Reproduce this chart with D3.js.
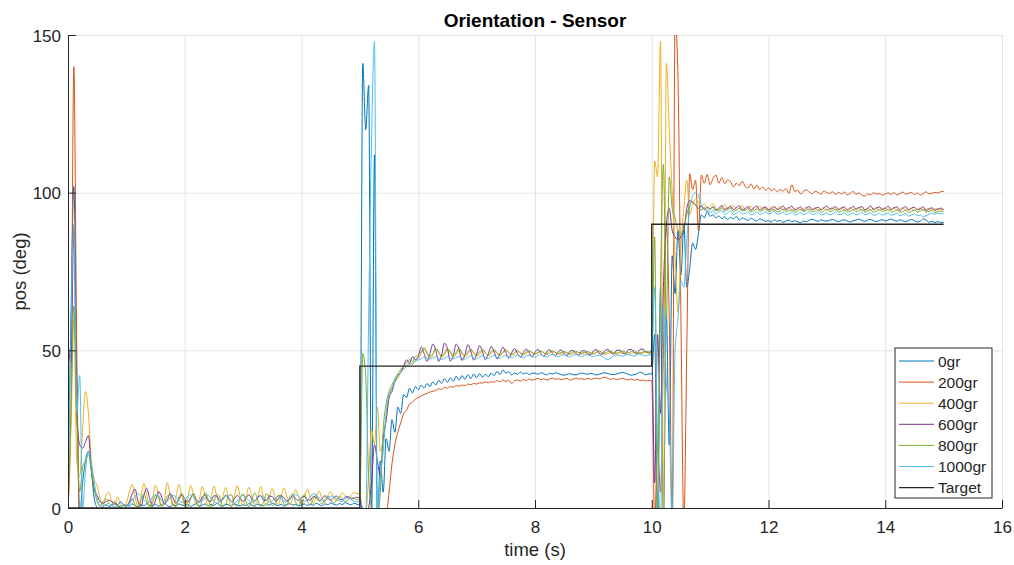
<!DOCTYPE html>
<html>
<head>
<meta charset="utf-8">
<script src="https://cdn.jsdelivr.net/npm/d3@7"></script>
<style>
  body { margin: 0; background: #fff; }
  text { font-family: "Liberation Sans", Arial, Helvetica, sans-serif; fill: #262626; }
</style>
</head>
<body>
<svg id="mainsvg" width="1014" height="565"></svg>
<script>
// sampled every 0.05 s from 0 to 15 s (one row = one second)
const sampleStep = 0.05;

const series0gr = [
  5, 60, 102, 40, -3, 8, 15, 18, 12, 3, 0, -2, 0.5, 1, 0.5, 0.8, 1.2, 0.6, 0.3, 0.9,
  1, 0.6, 1.3, 0.8, 0.4, 1.1, 0.7, 1.4, 0.9, 0.5, 1.2, 0.6, 1.0, 1.5, 0.8, 0.4, 1.1, 0.7, 1.3, 0.9,
  0.8, 1.2, 0.5, 1.0, 1.4, 0.7, 0.9, 1.3, 0.6, 1.1, 0.8, 1.5, 0.9, 0.5, 1.2, 1.0, 0.6, 1.3, 0.9, 0.7,
  1.1, 0.8, 1.4, 0.9, 0.6, 1.2, 1.0, 0.7, 1.3, 0.9, 1.5, 1.1, 0.8, 1.2, 0.6, 1.0, 1.4, 0.9, 1.1, 0.7,
  1.0, 1.3, 0.8, 1.2, 0.9, 1.5, 1.1, 0.7, 1.3, 1.0, 1.6, 1.2, 0.9, 1.4, 1.1, 1.7, 1.3, 1.0, 1.5, 1.2,
  1.0, 141, 120, 134, -5, 112, -5, 15, 5, 22, 18, 28, 24, 32, 30, 36, 35, 38, 36.5, 38.5,
  37.5, 39, 38, 39.5, 38.5, 40, 39, 40.5, 39.5, 41, 39.8, 41.3, 40.2, 41.8, 40.5, 42, 40.8, 42.3, 41, 42.5,
  41.3, 42.6, 41.5, 42.4, 41.6, 42.8, 42, 43.3, 42.3, 43.8, 42.8, 43.2, 42.2, 42.8, 42.4, 43.1, 42.5, 42.9, 42.3, 42.7,
  42.8, 42.4, 42.9, 42.6, 42.2, 42.7, 42.5, 42.9, 42.6, 42.3, 42.1, 42.4, 42.6, 42.3, 42.2, 42.5, 42.8, 42.6, 42.4, 42.7,
  42.5, 42.2, 42.4, 42.7, 42.9, 42.6, 42.4, 42.3, 42.5, 42.8, 43.0, 42.7, 42.4, 42.1, 42.3, 42.6, 43.1, 42.7, 42.2, 42.6,
  42.4, 55, -5, 70, -5, 62, 20, 80, 68, 88, 74, 90, 70, 76, 84, 82, 87, 93, 92, 94,
  92.5, 93, 92, 92.6, 91.8, 92.4, 91.5, 92.2, 91.7, 92.5, 91.3, 92, 91.6, 91.2, 91.9, 91.4, 91, 91.7, 91.3, 90.9,
  91.1, 90.7, 91.4, 90.9, 91.2, 90.6, 91, 91.3, 90.8, 91.1, 90.7, 90.5, 91, 90.8, 91.3, 91.6, 91.2, 90.9, 91.4, 91.1,
  91, 91.3, 91.5, 91.1, 90.8, 91.2, 91.4, 91, 90.7, 91.1, 91.3, 91.6, 91.2, 90.9, 91.3, 91.5, 91.1, 90.8, 91.2, 91.4,
  91, 91.3, 91.6, 91.2, 90.9, 91.4, 91.1, 90.8, 91.2, 91.5, 91.1, 90.7, 91, 91.7, 91.3, 90.6, 90.9, 90.5, 90.8, 90.6,
  90.5
];

const series200gr = [
  0, 30, 140, 50, -3, -2, -1, -2, -1, -1.5, -1, -2, -1, -1, -1.5, -1, -2, -1, -1, -1.5,
  -1, -1, -1, -1, -1, -1, -1, -1, -1, -1, -1, -1, -1, -1, -1, -1, -1, -1, -1, -1,
  -1, -1, -1, -1, -1, -1, -1, -1, -1, -1, -1, -1, -1, -1, -1, -1, -1, -1, -1, -1,
  -1, -1, -1, -1, -1, -1, -1, -1, -1, -1, -1, -1, -1, -1, -1, -1, -1, -1, -1, -1,
  -1, -1, -1, -1, -1, -1, -1, -1, -1, -1, -1, -1, -1, -1, -1, -1, -1, -1, -1, -1,
  -1, -2, -2, -2, -2, -2, -2, -2, -2, -2, 5, 14, 20, 24, 27, 30, 31, 33, 33.5, 34.5,
  35, 35.5, 36, 36.3, 36.8, 37, 37.3, 37.8, 37.6, 38.2, 38, 38.5, 38.3, 38.8, 38.6, 39, 38.8, 39.3, 39.1, 39.5,
  39.3, 39.7, 39.6, 40, 39.7, 40.1, 39.9, 40.4, 40, 40.6, 40.1, 40.5, 39.5, 40.3, 40.6, 40.2, 40.8, 40.4, 40.9, 40.5,
  40.8, 41.1, 40.7, 41, 40.6, 40.9, 41.2, 40.8, 41, 40.7, 40.9, 41.1, 40.6, 40.8, 41.2, 40.9, 41, 40.7, 41.1, 40.8,
  41, 41.2, 40.9, 41.3, 41.5, 41.1, 40.8, 41, 40.7, 40.9, 41.2, 40.8, 40.6, 40.9, 40.5, 40.8, 40.4, 40.6, 40.3, 40.5,
  40.3, -5, 20, 5, 50, 90, 60, -5, 155, 136, 60, -5, 50, 106, 101, 104, 88, 105.6, 103, 105.8,
  102.5, 104.5, 105.6, 103, 104.8, 102.8, 104, 103.5, 101.8, 103, 102.2, 103.6, 102, 101.5, 102.8, 101.2, 102.4, 101, 101.8, 100.8,
  101.5, 100.6, 101.2, 100.3, 101, 100.5, 101.3, 99.8, 102.5, 100.4, 100.8, 99.6, 100.5, 100.9, 100.2, 99.7, 100.4, 100.1, 99.5, 100.6,
  100, 99.8, 100.3, 99.4, 100.1, 99.6, 100.2, 99.3, 99.8, 100.4, 99.5, 99.9, 99.2, 98.9, 99.6, 99.3, 100, 99.5, 99.7, 99.2,
  99.6, 99.9, 99.4, 100, 99.3, 99.7, 100.2, 99.5, 99.8, 100.1, 99.4, 99.9, 99.2, 99.7, 100.3, 99.6, 99.8, 100.1, 99.9, 100.3,
  100.4
];

const series400gr = [
  10, 25, 60, 15, 10, 25, 37, 30, 15, 9, 7, 3, 1, 4, 5, 2, 1, 3.5, 1, 0,
  1.5, 5, 7.5, 3.5, 0.5, 3.5, 7.8, 4, 0.8, 3, 7.2, 4.5, 0.5, 2.5, 8, 4, 0.6, 3.5, 7.5, 3.8,
  0.7, 3, 7.2, 4.2, 0.8, 2.8, 6.8, 4, 0.5, 3.2, 7, 3.6, 0.9, 3.5, 6.5, 3.2, 0.6, 3.8, 7.1, 3.5,
  0.8, 3.4, 6.6, 3.9, 1, 3, 6.9, 3.3, 0.7, 3.6, 6.2, 3.1, 1.1, 3.7, 6.4, 3.5, 0.9, 3.2, 5.8, 3.4,
  1.2, 3.6, 5.9, 3.7, 1.5, 3.3, 5.4, 3.1, 1.8, 3.8, 5.2, 3.6, 2.2, 3.5, 4.8, 3.9, 3.2, 4.3, 4.9, 4.6,
  4.5, -2, -2, 10, 25, 20, 32, 18, 22, 28, 35, 38, 40, 41, 43, 44, 45, 46, 45.5, 47,
  47.5, 49, 50.5, 49, 47.5, 48.5, 50.5, 49.5, 47.8, 48.6, 50.3, 49.2, 47.9, 48.8, 50.2, 49, 48, 48.9, 50, 49.1,
  48.2, 48.7, 49.8, 49.3, 48.3, 48.9, 49.9, 49, 48.4, 49.1, 50.2, 49.2, 48.5, 48.8, 49.6, 49.1, 48.6, 49, 49.7, 49.2,
  48.7, 49.1, 49.8, 49.2, 48.6, 49, 49.6, 49.3, 48.8, 48.9, 49.5, 49.1, 48.6, 49, 49.4, 49.2, 48.7, 49.1, 49.5, 49,
  48.8, 49.2, 49.6, 49.1, 48.7, 49, 49.4, 49.2, 48.8, 49.1, 49.5, 49, 48.7, 49, 49.3, 49.1, 48.8, 49.2, 49.4, 49,
  48.9, 110, 105, 148, -5, 141, 120, 100, 80, 62, 83, 95, 104, 93, 96, 98, 97, 95.5, 96.5, 95,
  95.8, 96.5, 95, 94.3, 95.6, 96.2, 94.8, 95.4, 96, 94.6, 95.2, 95.9, 94.5, 95.1, 95.7, 94.4, 95, 95.8, 94.6, 95.3,
  94.7, 95.5, 94.3, 95, 95.6, 94.4, 94.9, 95.4, 94.2, 94.8, 95.3, 94.5, 94.9, 95.5, 94.3, 94.7, 95.2, 94.4, 94.8, 95.3,
  94.5, 94.9, 95.4, 94.3, 94.8, 95.2, 94.4, 94.7, 95.3, 94.5, 94.9, 95.4, 94.2, 94.6, 95.1, 94.4, 94.8, 95.3, 94.5, 94.9,
  95.2, 94.3, 94.7, 95.1, 94.4, 94.8, 95.3, 94.5, 94.6, 95, 94.3, 94.8, 95.2, 94.4, 94.7, 95.1, 94.5, 94.8, 95, 94.6,
  94.8
];

const series600gr = [
  53, 46, 89, 30, 20, 19, 21, 23, 12, 6, 4, 2, 1.5, 2, 2.5, 2, 1.5, 1, 2, 1,
  0.5, 2, 4.5, 6, 2, 0.5, 4, 6.2, 3, 0.8, 2.5, 5.2, 3.8, 1.2, 2.4, 4.6, 3.2, 1.5, 2.8, 4.2,
  3, 1.8, 3.2, 4.5, 2.6, 1.9, 3.6, 4.2, 2.3, 2.1, 3.9, 3.8, 2.2, 2.6, 4.1, 3.3, 2, 2.9, 4, 3,
  2.1, 3.2, 4.2, 2.8, 2.2, 3.5, 3.9, 2.5, 2.4, 3.8, 3.6, 2.3, 2.7, 4, 3.2, 2.2, 3, 3.9, 2.9, 2.4,
  3.3, 3.7, 2.6, 2.5, 3.6, 3.4, 2.3, 2.8, 3.9, 3.1, 2.4, 3.2, 3.8, 2.9, 2.6, 3.5, 3.6, 2.8, 3.1, 3.4,
  3.2, -3, -3, 0, 8, 20, 15, 10, 22, 28, 35, 37, 40, 42, 43, 45, 47, 46, 48, 47,
  48, 51, 49, 46.5, 49, 52, 50, 46.5, 48.5, 52.3, 50.5, 46.6, 48.3, 52, 50.3, 46.8, 48.6, 51.8, 49.8, 46.9,
  48.8, 51.5, 49.6, 47, 48.9, 51.2, 49.5, 47.3, 49, 51, 49.3, 47.5, 49.2, 50.6, 49, 47.8, 49.3, 50.4, 49.2, 48,
  49.4, 50.3, 49, 48.1, 49.5, 50.2, 49.1, 48.3, 49.6, 50.1, 48.9, 48.4, 49.7, 50, 49, 48.5, 49.8, 49.9, 48.9, 48.6,
  49.8, 50.2, 49.1, 48.7, 49.9, 50.3, 49.2, 48.8, 50, 50.1, 49.1, 48.9, 50.2, 50.3, 49.3, 49, 50.3, 50.4, 49.5, 49.4,
  50, 8, 55, 30, 70, 90, 95, 88, 86, 85, 86, 88, 95, 97.5, 97, 96, 95, 95.8, 94.6, 95.4,
  94.8, 95.6, 94.5, 95.2, 95.9, 94.7, 95.1, 95.7, 94.6, 95.3, 95.8, 94.5, 95, 95.6, 94.4, 95.2, 95.7, 94.6, 95.1, 95.5,
  94.5, 94.9, 95.6, 94.7, 95, 95.8, 94.6, 95.2, 95.7, 94.5, 94.9, 95.5, 94.4, 95.1, 95.6, 94.6, 95, 95.4, 94.5, 95.2,
  95.7, 94.8, 95, 95.6, 94.6, 95.1, 95.5, 94.4, 95, 95.7, 94.7, 95.2, 95.6, 94.5, 94.9, 95.8, 94.6, 95.1, 95.5, 94.7,
  95, 95.7, 94.6, 95.2, 95.5, 94.4, 95, 95.6, 94.5, 95.1, 95.4, 94.6, 94.9, 95.5, 94.3, 94.8, 95.2, 94.4, 94.7, 95.1,
  94.6
];

const series800gr = [
  0, 30, 64, 30, 5, 13, 15, 17, 12, 6, 2, 0.5, 2, 3, 1.5, 1, 2, 1, 0.5, 1,
  0.5, 1.5, 3, 1, 0, 2.5, 4.5, 2, 0.2, 1.8, 4, 3.2, 0.5, 1.2, 3.8, 4.2, 1, 0.5, 3.5, 4.6,
  1.5, 0.3, 2.8, 4.5, 2, 0.2, 2.5, 4.8, 2.8, 0.4, 1.8, 4.4, 3.5, 0.8, 1.2, 3.9, 4.2, 1.2, 0.6, 3.2,
  4.5, 2, 0.4, 2.6, 4.8, 2.6, 0.5, 1.9, 4.5, 3.3, 0.8, 1.4, 4, 3.9, 1.2, 1, 3.6, 4.4, 1.8, 0.8,
  3, 4.3, 2.2, 1, 2.8, 4, 2.5, 1.3, 2.6, 3.8, 2.7, 1.6, 2.5, 3.6, 2.9, 2, 2.6, 3.5, 3.1, 2.6,
  3, 49, 42, 10, 0, -3, -3, 5, 25, 33, 37, 39, 41, 42.5, 44, 45, 46, 47, 46.5, 48,
  48.5, 49.5, 50.8, 49.2, 48, 49, 50.5, 49.4, 48.1, 49.2, 50.6, 49.5, 48.2, 49.3, 50.7, 49.2, 48.3, 49.4, 50.4, 49.3,
  48.4, 49.5, 50.3, 49.2, 48.5, 49.6, 50.2, 49.1, 48.6, 49.5, 50, 49.3, 48.7, 49.4, 49.9, 49.2, 48.8, 49.5, 49.8, 49.3,
  48.9, 49.4, 49.7, 49.2, 48.9, 49.5, 49.8, 49.3, 49, 49.4, 49.6, 49.2, 49, 49.5, 49.7, 49.3, 49.1, 49.4, 49.6, 49.2,
  49, 49.5, 49.8, 49.3, 49.1, 49.6, 49.7, 49.2, 49.1, 49.5, 49.8, 49.4, 49.2, 49.6, 49.9, 49.4, 49.2, 49.5, 49.7, 49.3,
  49.4, 86, -5, 70, 109, 60, 105, 95, 92, 88, 87, 89, 93, 96, 97, 96, 95, 94.5, 95.3, 94.2,
  94.8, 95.4, 94.3, 94.7, 95.2, 94.1, 94.6, 95.1, 94, 94.5, 95, 94.2, 94.4, 94.9, 93.9, 94.3, 94.8, 94.1, 94.4, 94.9,
  94, 94.3, 94.7, 93.9, 94.2, 94.8, 94, 94.3, 94.6, 93.8, 94.2, 94.7, 94, 94.4, 94.8, 93.9, 94.2, 94.6, 93.8, 94.3,
  94.7, 94, 94.3, 94.8, 93.9, 94.2, 94.5, 93.8, 94.1, 94.6, 94, 94.3, 94.7, 93.9, 94.2, 94.5, 93.8, 94.2, 94.6, 94,
  94.3, 94.7, 93.9, 94.1, 94.5, 93.8, 94, 94.4, 93.7, 94.1, 94.5, 93.9, 94.2, 94.6, 93.8, 94, 94.3, 93.7, 94, 94.2,
  94
];

const series1000gr = [
  0, 55, 90, 30, 42, 0, 12, 18, 14, 8, 3, 1, 0.5, 1, 1.5, 0.8, 0.3, 1, 1.8, 1.2,
  0.6, 1.2, 2.5, 3.8, 4.5, 3.9, 2.6, 1.8, 2.2, 3.5, 4.2, 3.8, 2.5, 1.6, 2.1, 3.3, 4, 3.5, 2.4, 1.9,
  2.4, 3.6, 4.3, 3.4, 2.2, 1.7, 2.3, 3.4, 4.1, 3.3, 2.2, 1.5, 1.9, 3, 3.8, 3.2, 2.1, 1.6, 2.2, 3.3,
  4, 3.4, 2.3, 1.7, 2.1, 3.1, 3.9, 3.5, 2.4, 1.8, 2.3, 3.2, 3.7, 3.1, 2.2, 1.9, 2.6, 3.6, 4.2, 3.7,
  2.8, 2.2, 2.5, 3.5, 4.5, 4.2, 3.3, 2.5, 2.3, 3, 3.8, 3.6, 2.9, 2.2, 2.1, 2.8, 3.2, 2.7, 2.1, 1.9,
  2.2, 0, -3, 60, 117, 148, -3, 10, 18, 30, 36, 38, 40, 42, 43, 44, 45, 45.5, 46, 46.5,
  47, 47.3, 47.8, 47.5, 47.2, 47.6, 48, 47.4, 47.1, 47.5, 47.9, 47.6, 47.3, 47.7, 48.1, 47.6, 47.2, 47.8, 48.2, 47.5,
  47.3, 47.9, 48.3, 47.7, 47.4, 48, 48.4, 47.8, 47.5, 48.1, 48.3, 47.9, 47.6, 48.1, 48.5, 48, 47.7, 48.2, 48.4, 47.9,
  47.8, 48.3, 48.6, 48.1, 47.9, 48.4, 48.7, 48.2, 48, 48.5, 48.6, 48.1, 47.9, 48.4, 48.7, 48.3, 48, 48.5, 48.6, 48.2,
  48, 48.4, 48.5, 48.1, 47.4, 47.1, 47.6, 48.2, 48.5, 48.3, 48.1, 48.5, 48.7, 48.4, 48.2, 48.6, 48.8, 48.5, 48.3, 48.6,
  48.5, 70, 20, -5, 64, 40, 30, -5, 50, 60, 72, 70, 85, 95, 99, 100, 99, 96, 95, 94,
  93.8, 94.5, 93.2, 93.9, 94.4, 93.1, 93.6, 94.2, 93, 93.5, 94.1, 93.2, 93.4, 94, 92.9, 93.3, 93.9, 93.1, 93.5, 94,
  93.2, 93.6, 94.1, 93.1, 93.4, 93.9, 93, 93.3, 93.8, 92.9, 93.2, 93.7, 93, 93.4, 93.9, 93.1, 93.3, 93.8, 92.9, 93.2,
  93.6, 92.9, 93.3, 93.8, 93, 93.2, 93.7, 92.8, 93.1, 93.6, 92.9, 93.3, 93.7, 93, 93.2, 93.6, 92.8, 93, 93.5, 92.9,
  93.2, 93.6, 92.8, 93.1, 93.5, 92.7, 93, 93.4, 92.6, 92.9, 93.3, 92.7, 92.9, 92.4, 92.7, 93.1, 93.4, 93.2, 93.5, 93.3,
  93.4
];

// target is a step signal
const targetTime = [0, 5, 5, 10, 10, 15];
const targetValues = [0, 0, 45, 45, 90, 90];

const seriesNames = ['0gr', '200gr', '400gr', '600gr', '800gr', '1000gr', 'Target'];
const seriesColors = ['#0072BD', '#D95319', '#EDB120', '#7E2F8E', '#77AC30', '#4DBEEE', '#262626'];

const xTicks = [0, 2, 4, 6, 8, 10, 12, 14, 16];
const yTicks = [0, 50, 100, 150];

const svg = d3.select('#mainsvg');
const width = +svg.attr('width');
const height = +svg.attr('height');
const margin = {top: 35, right: 12, bottom: 57, left: 68};
const innerWidth = width - margin.left - margin.right;
const innerHeight = height - margin.top - margin.bottom;

const xScale = d3.scaleLinear().domain([0, 16]).range([0, innerWidth]);
const yScale = d3.scaleLinear().domain([0, 150]).range([innerHeight, 0]);

const g = svg.append('g').attr('id', 'maingroup')
    .attr('transform', `translate(${margin.left}, ${margin.top})`);

// grid
const gridX = g.append('g').call(d3.axisBottom(xScale).tickValues(xTicks).tickSize(innerHeight).tickFormat(''));
const gridY = g.append('g').call(d3.axisLeft(yScale).tickValues(yTicks).tickSize(-innerWidth).tickFormat(''));
[gridX, gridY].forEach(gr => {
    gr.select('.domain').remove();
    gr.selectAll('.tick text').remove();
    gr.selectAll('.tick line').attr('stroke', '#e3e3e3').attr('stroke-width', 1);
});

// lines
svg.append('defs').append('clipPath').attr('id', 'clip')
  .append('rect').attr('x', 0).attr('y', 0).attr('width', innerWidth).attr('height', innerHeight);

const line = d3.line()
    .curve(d3.curveMonotoneX)
    .x(d => xScale(d[0]))
    .y(d => yScale(d[1]));

const allSeries = [series0gr, series200gr, series400gr, series600gr, series800gr, series1000gr];
const lineG = g.append('g').attr('clip-path', 'url(#clip)');

allSeries.forEach((vals, k) => {
    const pts = vals.map((v, i) => [i * sampleStep, v]);
    lineG.append('path')
        .datum(pts)
        .attr('fill', 'none')
        .attr('stroke', seriesColors[k])
        .attr('stroke-width', 1)
        .attr('stroke-linejoin', 'round')
        .attr('d', line);
});

lineG.append('path')
    .datum(targetTime.map((t, i) => [t, targetValues[i]]))
    .attr('fill', 'none')
    .attr('stroke', seriesColors[6])
    .attr('stroke-width', 1.4)
    .attr('d', line.curve(d3.curveLinear));

// axes (ticks pointing inward)
const xAxisG = g.append('g').attr('transform', `translate(0, ${innerHeight})`)
    .call(d3.axisBottom(xScale).tickValues(xTicks).tickSizeInner(-8).tickSizeOuter(0));
const yAxisG = g.append('g')
    .call(d3.axisLeft(yScale).tickValues(yTicks).tickSizeInner(-8).tickSizeOuter(0));

xAxisG.selectAll('.tick text').attr('y', 25).attr('dy', null);
yAxisG.selectAll('.tick text').attr('x', -7).attr('y', 6).attr('dy', null);

[xAxisG, yAxisG].forEach(ax => {
    ax.attr('font-size', null).attr('font-family', null);
    ax.select('.domain').attr('stroke', '#262626').attr('stroke-width', 1);
    ax.selectAll('.tick line').attr('stroke', '#262626');
    ax.selectAll('.tick text')
        .attr('font-size', '17px')
        .attr('fill', '#262626');
});

// title and axis labels
svg.append('text')
    .attr('x', margin.left + innerWidth / 2)
    .attr('y', 27)
    .attr('text-anchor', 'middle')
    .attr('font-size', '19px')
    .attr('font-weight', 'bold')
    .style('fill', '#000')
    .text('Orientation - Sensor');

svg.append('text')
    .attr('x', margin.left + innerWidth / 2)
    .attr('y', 556)
    .attr('text-anchor', 'middle')
    .attr('font-size', '18.5px')
    .text('time (s)');

svg.append('text')
    .attr('transform', `translate(26, ${margin.top + innerHeight / 2}) rotate(-90)`)
    .attr('text-anchor', 'middle')
    .attr('font-size', '18.5px')
    .text('pos (deg)');

// legend
const legend = svg.append('g').attr('transform', 'translate(895, 348)');
legend.append('rect')
    .attr('width', 97).attr('height', 150)
    .attr('fill', '#fff').attr('stroke', '#262626').attr('stroke-width', 1);

seriesNames.forEach((name, i) => {
    const yy = 13 + i * 21.1;
    legend.append('line')
        .attr('x1', 4).attr('x2', 39).attr('y1', yy).attr('y2', yy)
        .attr('stroke', seriesColors[i]).attr('stroke-width', i === 6 ? 1.4 : 1);
    legend.append('text')
        .attr('x', 43).attr('y', yy + 5.5)
        .attr('font-size', '15.5px')
        .text(name);
});
</script>
</body>
</html>
